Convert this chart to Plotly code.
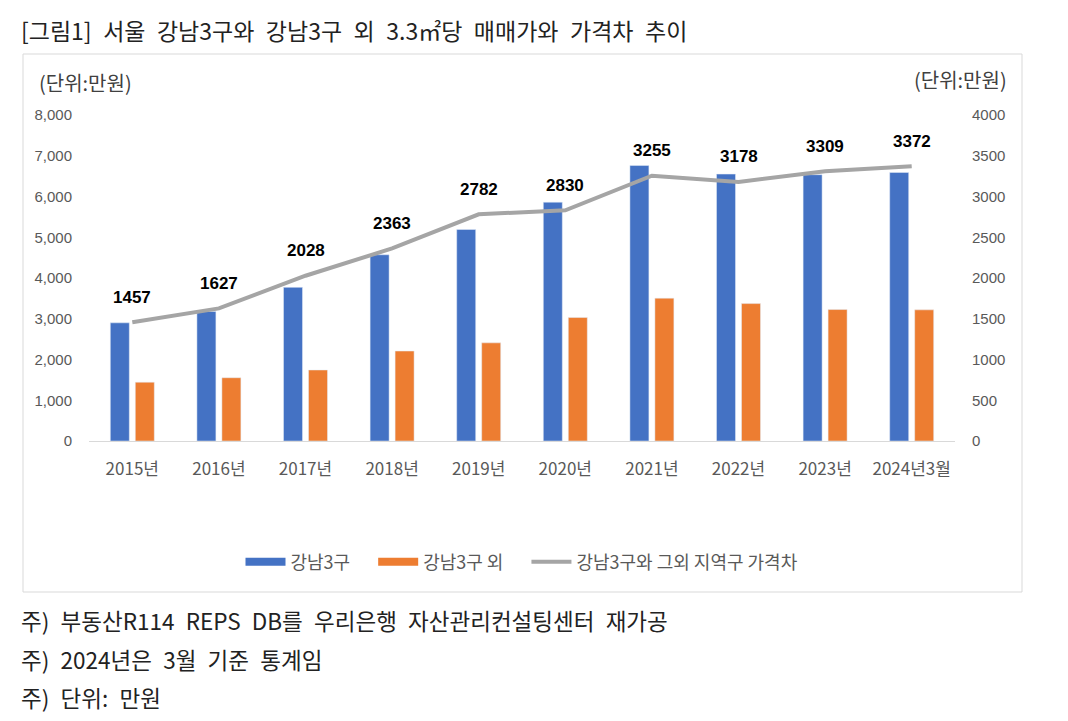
import plotly.graph_objects as go

# ---------------- data ----------------
categories = ["2015년", "2016년", "2017년", "2018년", "2019년",
              "2020년", "2021년", "2022년", "2023년", "2024년3월"]
gangnam3 = [2900, 3180, 3770, 4570, 5190, 5860, 6760, 6550, 6535, 6590]
outside_gangnam3 = [1443, 1553, 1742, 2207, 2408, 3030, 3505, 3372, 3226, 3218]
price_gap = [1457, 1627, 2028, 2363, 2782, 2830, 3255, 3178, 3309, 3372]
left_ticks = [0, 1000, 2000, 3000, 4000, 5000, 6000, 7000, 8000]
right_ticks = [0, 500, 1000, 1500, 2000, 2500, 3000, 3500, 4000]
legend_names = ["강남3구", "강남3구 외", "강남3구와 그외 지역구 가격차"]

SP = "\u2002"  # wide word space, as in the original typesetting
title_text = SP.join("[그림1] 서울 강남3구와 강남3구 외 3.3㎡당 매매가와 가격차 추이".split(" "))
notes = [SP.join(t.split(" ")) for t in
         ["주) 부동산R114 REPS DB를 우리은행 자산관리컨설팅센터 재가공",
          "주) 2024년은 3월 기준 통계임",
          "주) 단위: 만원"]]
unit_label = "(단위:만원)"

# ---------------- layout helpers ----------------
W, H = 1068, 721
L, R, T, B = 89, 955, 115, 441

def xp(px):
    return (px - L) / (R - L)

def yp(py):
    return (B - py) / (B - T)

BLUE = "#4472C4"
ORANGE = "#ED7D31"
GRAY = "#A5A5A5"
KFONT = "Noto Sans CJK KR"
NFONT = "Liberation Sans, Noto Sans CJK KR"
PAD = "\u2002\u2002"  # extra spacing between legend entries

fig = go.Figure()

fig.add_trace(go.Bar(x=categories, y=gangnam3, name=legend_names[0],
                     marker_color=BLUE, yaxis="y", showlegend=False))
fig.add_trace(go.Bar(x=categories, y=outside_gangnam3, name=legend_names[1],
                     marker_color=ORANGE, yaxis="y", showlegend=False))

# legend-only swatches (flat rectangles like the original)
fig.add_trace(go.Scatter(x=[None], y=[None], mode="lines", name=legend_names[0] + PAD,
                         line=dict(color=BLUE, width=8)))
fig.add_trace(go.Scatter(x=[None], y=[None], mode="lines", name=legend_names[1] + PAD,
                         line=dict(color=ORANGE, width=8)))

fig.add_trace(go.Scatter(x=categories, y=price_gap, mode="lines",
                         name=legend_names[2],
                         line=dict(color=GRAY, width=4), yaxis="y2"))

annotations = []
for c, v in zip(categories, price_gap):
    annotations.append(dict(x=c, y=v, xref="x", yref="y2", text=str(v),
                            showarrow=False, yshift=25,
                            font=dict(family=NFONT, size=17, color="#000000", weight="bold")))

annotations.append(dict(x=xp(19), y=yp(30), xref="paper", yref="paper",
                        text=title_text, showarrow=False, xanchor="left", yanchor="middle",
                        font=dict(family=KFONT, size=23, color="#222222")))
for txt, py in zip(notes, [620, 659, 697]):
    annotations.append(dict(x=xp(19), y=yp(py), xref="paper", yref="paper",
                            text=txt, showarrow=False, xanchor="left", yanchor="middle",
                            font=dict(family=KFONT, size=22.5, color="#222222")))
annotations.append(dict(x=xp(85), y=yp(83), xref="paper", yref="paper",
                        text=unit_label, showarrow=False, xanchor="center", yanchor="middle",
                        font=dict(family=KFONT, size=20, color="#404040")))
annotations.append(dict(x=xp(960), y=yp(79), xref="paper", yref="paper",
                        text=unit_label, showarrow=False, xanchor="center", yanchor="middle",
                        font=dict(family=KFONT, size=20, color="#404040")))

fig.update_layout(
    width=W, height=H,
    margin=dict(l=L, r=W - R, t=T, b=H - B, pad=0),
    paper_bgcolor="white", plot_bgcolor="white",
    barmode="group", bargap=0.423, bargroupgap=0.24,
    xaxis=dict(type="category", categoryorder="array", categoryarray=categories,
               showgrid=False, showline=True, linecolor="#D9D9D9", linewidth=1,
               ticks="", ticklabelstandoff=13,
               tickfont=dict(family=KFONT, size=17, color="#595959")),
    yaxis=dict(range=[0, 8000], tickvals=left_ticks, tickformat=",d",
               showgrid=False, zeroline=False, showline=False, ticks="",
               ticklabelstandoff=16,
               tickfont=dict(family=NFONT, size=15, color="#595959")),
    yaxis2=dict(range=[0, 4000], tickvals=right_ticks, tickformat="d",
                overlaying="y", side="right",
                showgrid=False, zeroline=False, showline=False, ticks="",
                ticklabelstandoff=16,
                tickfont=dict(family=NFONT, size=15, color="#595959")),
    legend=dict(orientation="h", x=0.5, xanchor="center", y=yp(562), yanchor="middle",
                font=dict(family=KFONT, size=18, color="#595959"),
                itemwidth=40, bgcolor="rgba(0,0,0,0)"),
    annotations=annotations,
    shapes=[dict(type="rect", xref="paper", yref="paper",
                 x0=xp(23), x1=xp(1022), y0=yp(54), y1=yp(592),
                 line=dict(color="#D9D9D9", width=1), fillcolor="rgba(0,0,0,0)",
                 layer="below")],
    showlegend=True,
)

fig.write_html("out.html", config={"displayModeBar": False},
               post_script="document.body.style.margin='0';document.body.style.overflow='hidden';")
